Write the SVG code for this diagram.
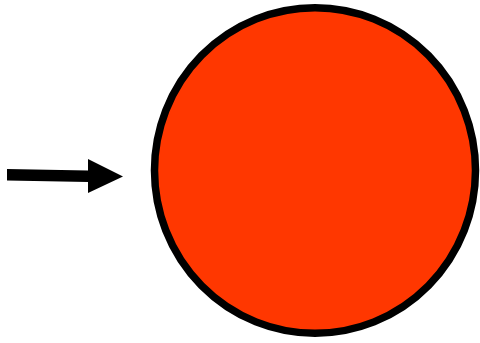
<svg xmlns="http://www.w3.org/2000/svg" width="480" height="343" viewBox="0 0 480 343">
<style>
.node{fill:#ff3700;stroke:#000;stroke-width:7.5}
.arrow{fill:#000;stroke:none}
</style>
<rect width="480" height="343" fill="#fff"/>
<g id="connectors">
<polygon class="arrow" points="7,169 88,170.5 88,159 123,176.5 88,193 88,182 7,180.5"/>
</g>
<g id="circle">
<ellipse class="node" cx="315" cy="170.5" rx="160.5" ry="162.8"/>
</g>
</svg>
